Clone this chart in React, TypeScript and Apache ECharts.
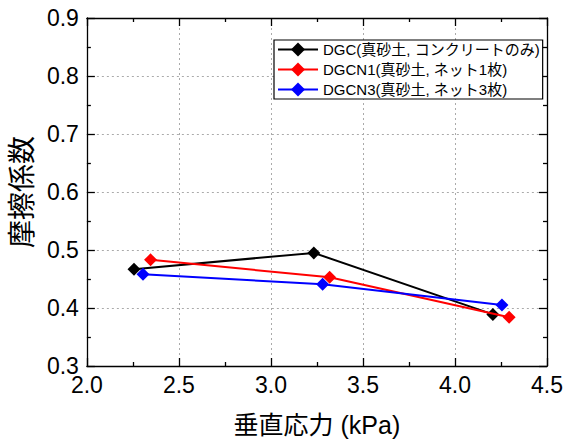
import React, { useEffect, useRef } from "react";
import * as echarts from "echarts";

const seriesNames = [
  "DGC(真砂土, コンクリートのみ)",
  "DGCN1(真砂土, ネット1枚)",
  "DGCN3(真砂土, ネット3枚)",
];
const seriesColors = ["#000000", "#ff0000", "#0000ff"];
const dgcX = [2.256, 3.233, 4.206];
const dgcY = [0.467, 0.495, 0.389];
const dgcn1X = [2.346, 3.319, 4.294];
const dgcn1Y = [0.483, 0.453, 0.384];
const dgcn3X = [2.305, 3.281, 4.255];
const dgcn3Y = [0.458, 0.441, 0.405];
const xRange = [2.0, 4.5];
const xStep = 0.5;
const yRange = [0.3, 0.9];
const yStep = 0.1;
const xName = "垂直応力 (kPa)";
const yName = "摩擦係数";

const FONT = "'Liberation Sans', Arial, 'Noto Sans CJK JP', sans-serif";

export default function App() {
  const ref = useRef<HTMLDivElement>(null);
  useEffect(() => {
    if (!ref.current) return;
    const chart = echarts.init(ref.current, undefined, { renderer: "svg" });
    const pairs = (xs: number[], ys: number[]) => xs.map((x, i) => [x, ys[i]]);
    const allData = [pairs(dgcX, dgcY), pairs(dgcn1X, dgcn1Y), pairs(dgcn3X, dgcn3Y)];
    const axisLine = { show: true, onZero: false, lineStyle: { color: "#000", width: 1.3 } };
    const tick = { show: true, inside: true, length: 8, lineStyle: { color: "#000", width: 1.3 } };
    const minorTick = { show: true, splitNumber: 2, length: 4, lineStyle: { color: "#000", width: 1.3 } };
    const grid = { show: true, lineStyle: { type: [2, 3], color: "#aaa", width: 1 } };
    chart.setOption({
      animation: false,
      backgroundColor: "#fff",
      grid: { left: 84, right: 18, top: 18, bottom: 78, containLabel: false },
      legend: {
        orient: "vertical",
        left: 274,
        top: 40,
        itemWidth: 40,
        itemHeight: 17.5,
        itemGap: 5,
        padding: [2, 3, 2, 3],
        borderColor: "#000",
        borderWidth: 1.2,
        borderRadius: 0,
        backgroundColor: "#fff",
        textStyle: { fontSize: 15, color: "#000", fontFamily: FONT },
        data: seriesNames,
      },
      xAxis: [
        {
          type: "value",
          min: xRange[0],
          max: xRange[1],
          interval: xStep,
          position: "bottom",
          name: xName,
          nameLocation: "middle",
          nameGap: 46,
          nameTextStyle: { fontSize: 25, color: "#000", fontFamily: FONT },
          axisLine,
          axisTick: tick,
          minorTick,
          axisLabel: {
            fontSize: 23,
            color: "#000",
            fontFamily: FONT,
            margin: 7,
            formatter: (v: number) => v.toFixed(1),
          },
          splitLine: grid,
        },
        {
          type: "value",
          min: xRange[0],
          max: xRange[1],
          interval: xStep,
          position: "top",
          axisLine,
          axisTick: tick,
          minorTick,
          axisLabel: { show: false },
          splitLine: { show: false },
        },
      ],
      yAxis: [
        {
          type: "value",
          min: yRange[0],
          max: yRange[1],
          interval: yStep,
          position: "left",
          name: yName,
          nameLocation: "middle",
          nameGap: 49,
          nameTextStyle: { fontSize: 28, color: "#000", fontFamily: FONT },
          axisLine,
          axisTick: tick,
          minorTick,
          axisLabel: {
            fontSize: 23,
            color: "#000",
            fontFamily: FONT,
            margin: 8,
            formatter: (v: number) => v.toFixed(1),
          },
          splitLine: grid,
        },
        {
          type: "value",
          min: yRange[0],
          max: yRange[1],
          interval: yStep,
          position: "right",
          axisLine,
          axisTick: tick,
          minorTick,
          axisLabel: { show: false },
          splitLine: { show: false },
        },
      ],
      series: seriesNames.map((name, i) => ({
        name,
        type: "line",
        xAxisIndex: 0,
        yAxisIndex: 0,
        data: allData[i],
        symbol: "diamond",
        symbolSize: 13,
        color: seriesColors[i],
        lineStyle: { color: seriesColors[i], width: 2 },
        itemStyle: { color: seriesColors[i] },
        z: 3 + i,
      })),
    });
    return () => chart.dispose();
  }, []);
  return (
    <div
      ref={ref}
      style={{ position: "fixed", left: 0, top: 0, width: 566, height: 444, overflow: "visible" }}
    />
  );
}
